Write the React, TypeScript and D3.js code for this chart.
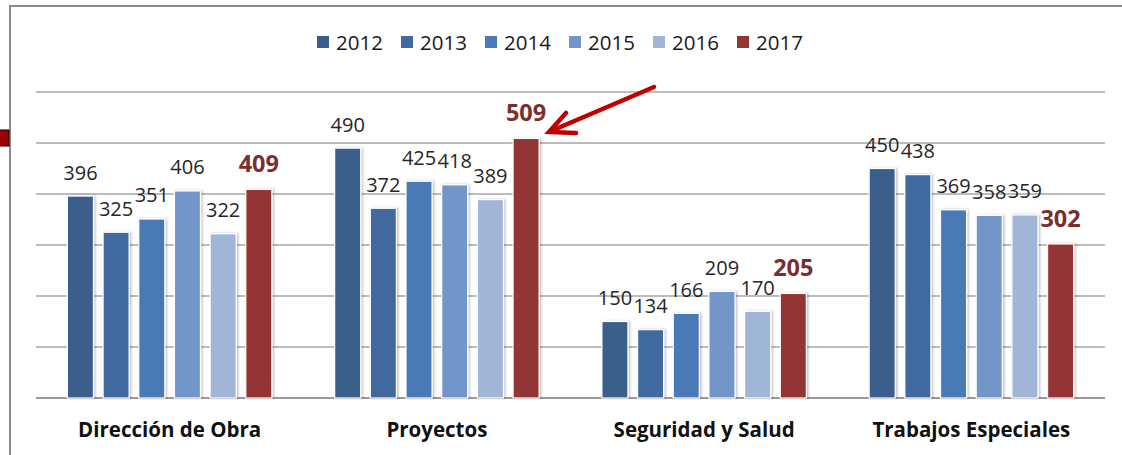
import React from "react";
import * as d3 from "d3";

const categories = ["Dirección de Obra", "Proyectos", "Seguridad y Salud", "Trabajos Especiales"];
const years = ["2012", "2013", "2014", "2015", "2016", "2017"];
const values2012 = [396, 490, 150, 450];
const values2013 = [325, 372, 134, 438];
const values2014 = [351, 425, 166, 369];
const values2015 = [406, 418, 209, 358];
const values2016 = [322, 389, 170, 359];
const values2017 = [409, 509, 205, 302];
const yTicks = [0, 100, 200, 300, 400, 500, 600];

const seriesValues = [values2012, values2013, values2014, values2015, values2016, values2017];
const colors = ["#3A5F8B", "#416B9F", "#4A7AB5", "#7396C8", "#A1B5D7", "#943634"];

const W = 1122;
const H = 455;
const FONT = "'Open Sans', 'Liberation Sans', sans-serif";

export default function App() {
  const x0 = d3.scaleBand<string>().domain(categories).range([36, 1105]).paddingInner(0).paddingOuter(0);
  const x1 = d3
    .scaleBand<string>()
    .domain(years)
    .range([0, x0.bandwidth()])
    .paddingInner(0.27)
    .paddingOuter(0.88);
  const y = d3.scaleLinear().domain([0, 600]).range([398, 92]);

  const legendX = d3.scalePoint<string>().domain(years).range([317, 737]);

  return (
    <svg
      width={W}
      height={H}
      style={{ position: "absolute", left: 0, top: 0, background: "#fff" }}
      fontFamily={FONT}
    >
      <defs>
        <filter id="glow" x="-30%" y="-10%" width="160%" height="120%">
          <feDropShadow dx="1.5" dy="0" stdDeviation="1.2" floodColor="#000" floodOpacity="0.25" />
        </filter>
      </defs>
      <rect x={0} y={0} width={W} height={H} fill="#fff" />
      {/* frame */}
      <line x1={9} x2={W} y1={6} y2={6} stroke="#8c8c8c" strokeWidth={2} />
      <line x1={10} x2={10} y1={6} y2={H} stroke="#8c8c8c" strokeWidth={2} />
      {/* selection marker */}
      <rect x={-2} y={130} width={11} height={16} fill="#A00000" stroke="#000" strokeWidth={1} />

      {/* gridlines */}
      {yTicks.map((t) => (
        <line
          key={t}
          x1={36}
          x2={1105}
          y1={y(t)}
          y2={y(t)}
          stroke={t === 0 ? "#9a9a9a" : "#a6a6a6"}
          strokeWidth={t === 0 ? 2 : 1.3}
        />
      ))}

      {/* bars */}
      {categories.map((c, ci) => (
        <g key={c} transform={`translate(${x0(c)},0)`}>
          {years.map((yr, si) => {
            const v = seriesValues[si][ci];
            const bx = x1(yr)!;
            return (
              <rect
                key={yr}
                x={bx}
                y={y(v)}
                width={x1.bandwidth()}
                height={y(0) - y(v)}
                fill={colors[si]}
                stroke="#fff"
                strokeWidth={1.2}
                filter="url(#glow)"
              />
            );
          })}
          {years.map((yr, si) => {
            const v = seriesValues[si][ci];
            const cx = x1(yr)! + x1.bandwidth() / 2;
            const last = si === years.length - 1;
            return (
              <text
                key={yr}
                x={cx}
                y={y(v) - (last ? 26 : 24)}
                textAnchor="middle"
                dominantBaseline="central"
                fontSize={last ? 23.5 : 20}
                fontWeight={last ? 700 : 400}
                fill={last ? "#7A2E2E" : "#262626"}
              >
                {v}
              </text>
            );
          })}
          <text
            x={x0.bandwidth() / 2}
            y={429}
            textAnchor="middle"
            dominantBaseline="central"
            fontSize={20.5}
            fontWeight={700}
            fill="#111"
          >
            {c}
          </text>
        </g>
      ))}

      {/* legend */}
      {years.map((yr, i) => (
        <g key={yr} transform={`translate(${legendX(yr)},0)`}>
          <rect x={0} y={36} width={12} height={12} fill={colors[i]} />
          <text x={19} y={42} dominantBaseline="central" fontSize={20.5} fill="#1a1a1a">
            {yr}
          </text>
        </g>
      ))}

      {/* arrow */}
      <g stroke="#C00000" strokeWidth={4.5} fill="none" strokeLinecap="round" strokeLinejoin="miter">
        <line x1={654} y1={87} x2={551} y2={131} />
        <polyline points="566,113 549,132 576,133" />
      </g>
    </svg>
  );
}
